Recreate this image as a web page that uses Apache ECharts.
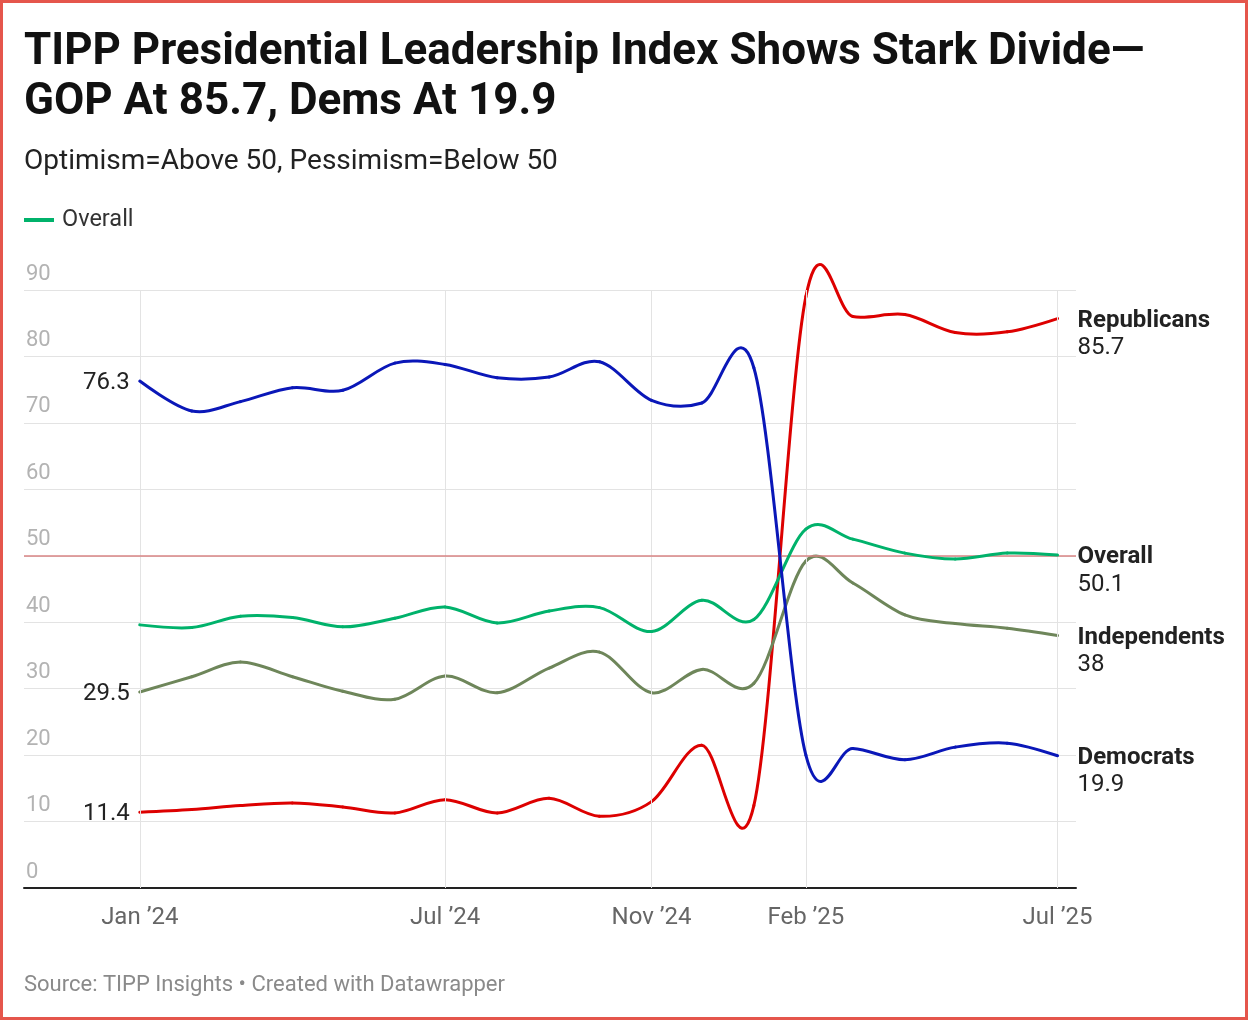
<!DOCTYPE html>
<html><head><meta charset="utf-8">
<script src="https://cdn.jsdelivr.net/npm/echarts@6/dist/echarts.min.js"></script>
<style>
html,body{margin:0;padding:0;background:#fff;}
#wrap{position:relative;width:1248px;height:1020px;}
#chart{width:1248px;height:1020px;}
#frame{position:absolute;left:0;top:0;width:1248px;height:1020px;box-sizing:border-box;border:3px solid #e5564c;pointer-events:none;}
</style></head>
<body><div id="wrap"><div id="chart"></div><div id="frame"></div></div>
<script>
// ---- data ----
const months = ['2024-01','2024-02','2024-03','2024-04','2024-05','2024-06','2024-07','2024-08','2024-09','2024-10','2024-11','2024-12',
                '2025-01','2025-02','2025-03','2025-04','2025-05','2025-06','2025-07'];
const overall      = [39.6, 39.2, 40.9, 40.7, 39.3, 40.6, 42.3, 39.9, 41.7, 42.2, 38.6, 43.3, 40.4, 54.0, 52.5, 50.4, 49.5, 50.4, 50.1];
const independents = [29.5, 31.8, 34.0, 31.8, 29.6, 28.4, 31.9, 29.4, 33.1, 35.5, 29.4, 32.9, 30.8, 49.2, 45.9, 41.1, 39.8, 39.1, 38];
const republicans  = [11.4, 11.8, 12.4, 12.8, 12.2, 11.3, 13.3, 11.3, 13.5, 10.8, 13.0, 21.5, 12.4, 89.0, 86.0, 86.3, 83.6, 83.7, 85.7];
const democrats    = [76.3, 71.8, 73.2, 75.3, 74.9, 79.0, 78.8, 76.8, 76.9, 79.2, 73.4, 73.0, 78.3, 20.0, 21.0, 19.3, 21.2, 21.8, 19.9];
const xTickMonths = ['2024-01','2024-07','2024-11','2025-02','2025-07'];
const xTickLabels = ['Jan ’24','Jul ’24','Nov ’24','Feb ’25','Jul ’25'];
const titleText = 'TIPP Presidential Leadership Index Shows Stark Divide—\nGOP At 85.7, Dems At 19.9';
const subtitleText = 'Optimism=Above 50, Pessimism=Below 50';
const sourceText = 'Source: TIPP Insights • Created with Datawrapper';

const DAY = 86400000;
function ts(m){ const p = m.split('-'); return Date.UTC(+p[0], +p[1]-1, p[2] ? +p[2] : 1) / DAY; } // days since epoch
const dates = months.map(m => ts(m));
const xTickValues = xTickMonths.map(m => ts(m));
const FONT = 'Roboto';

function curveSeries(name, values, color, showStart, z) {
  const n = values.length;
  return {
    type: 'custom', name: name, z: z, clip: false,
    coordinateSystem: 'cartesian2d',
    itemStyle: { color: color },
    encode: { x: 0, y: 1 },
    data: values.map((v, i) => [dates[i], v]),
    renderItem: function (params, api) {
      const i = params.dataIndex;
      const P = k => api.coord([dates[k], values[k]]);
      const children = [];
      if (i < n - 1) {
        const p1 = P(i), p2 = P(i + 1);
        const p0 = i > 0 ? P(i - 1) : null;
        const p3 = i + 2 < n ? P(i + 2) : null;
        const c1 = p0 ? [p1[0] + (p2[0] - p0[0]) / 6, p1[1] + (p2[1] - p0[1]) / 6] : p1;
        const c2 = p3 ? [p2[0] - (p3[0] - p1[0]) / 6, p2[1] - (p3[1] - p1[1]) / 6] : p2;
        children.push({
          type: 'bezierCurve',
          shape: { x1: p1[0], y1: p1[1], cpx1: c1[0], cpy1: c1[1], cpx2: c2[0], cpy2: c2[1], x2: p2[0], y2: p2[1] },
          style: { stroke: color, lineWidth: 3, fill: 'none', lineCap: 'round' }
        });
      }
      if (i === 0 && showStart) {
        const p = P(0);
        children.push({ type: 'text', x: p[0] - 10, y: p[1] + 2,
          style: { text: String(values[0]), align: 'right', verticalAlign: 'middle', fontSize: 24, fontFamily: FONT, fill: '#222' } });
      }
      if (i === n - 1) {
        const p = P(n - 1);
        children.push({ type: 'text', x: p[0] + 20, y: p[1] + 2,
          style: { text: name, align: 'left', verticalAlign: 'middle', fontSize: 24, fontWeight: 'bold', fontFamily: FONT, fill: '#222' } });
        children.push({ type: 'text', x: p[0] + 20, y: p[1] + 29.5,
          style: { text: String(values[n - 1]), align: 'left', verticalAlign: 'middle', fontSize: 24, fontFamily: FONT, fill: '#222' } });
      }
      return { type: 'group', children: children };
    }
  };
}

const chart = echarts.init(document.getElementById('chart'), null, { renderer: 'canvas' });
chart.setOption({
  animation: false,
  backgroundColor: '#fff',
  textStyle: { fontFamily: FONT },
  title: [
    { text: titleText, left: 24, top: 28, padding: 0,
      textStyle: { fontSize: 44, fontWeight: 'bold', fontFamily: FONT, color: '#111', lineHeight: 50 } },
    { text: subtitleText, left: 24, top: 147, padding: 0,
      textStyle: { fontSize: 28, fontWeight: 'normal', fontFamily: FONT, color: '#222', lineHeight: 30 } },
    { text: sourceText, left: 24, top: 972, padding: 0,
      textStyle: { fontSize: 22, fontWeight: 'normal', fontFamily: FONT, color: '#8a8a8a', lineHeight: 26 } }
  ],
  legend: {
    data: ['Overall'], left: 24, top: 208, padding: 0, icon: 'rect', itemWidth: 30, itemHeight: 4,
    selectedMode: false,
    textStyle: { fontSize: 23.5, color: '#333', fontFamily: FONT, padding: [0, 0, 0, 3] }
  },
  grid: { left: 24, right: 172, top: 290, bottom: 132, containLabel: false },
  xAxis: {
    type: 'value',
    min: ts('2023-10-24'),
    max: ts('2025-07-12'),
    axisLine: { show: true, onZero: false, lineStyle: { color: '#222', width: 2 } },
    axisTick: { show: false },
    splitLine: { show: false },
    axisLabel: {
      customValues: xTickValues,
      formatter: function (v) { const k = xTickValues.indexOf(v); return k >= 0 ? xTickLabels[k] : ''; },
      fontSize: 24, color: '#666', fontFamily: FONT, margin: 18, hideOverlap: false
    }
  },
  yAxis: {
    type: 'value', min: 0, max: 90, interval: 10,
    axisLine: { show: false }, axisTick: { show: false },
    splitLine: { show: true, lineStyle: { color: '#e3e3e3', width: 1 } },
    axisLabel: { inside: true, verticalAlign: 'bottom', margin: 2, padding: [0, 0, 4, 0], lineHeight: 24,
      fontSize: 22, color: '#b3b3b3', fontFamily: FONT }
  },
  series: [
    { type: 'line', name: 'ref', data: [], silent: true, z: 1,
      markLine: { silent: true, symbol: 'none', label: { show: false }, animation: false,
        data: xTickValues.map(v => ({ xAxis: v, lineStyle: { color: '#e3e3e3', width: 1, type: 'solid' } }))
          .concat([{ yAxis: 50, lineStyle: { color: '#d98585', width: 1.5, type: 'solid' } }]) } },
    curveSeries('Republicans', republicans, '#dd0000', true, 3),
    curveSeries('Independents', independents, '#6e865a', true, 4),
    curveSeries('Overall', overall, '#00b26b', false, 5),
    curveSeries('Democrats', democrats, '#0a17b8', true, 6)
  ]
});
</script>
</body></html>
